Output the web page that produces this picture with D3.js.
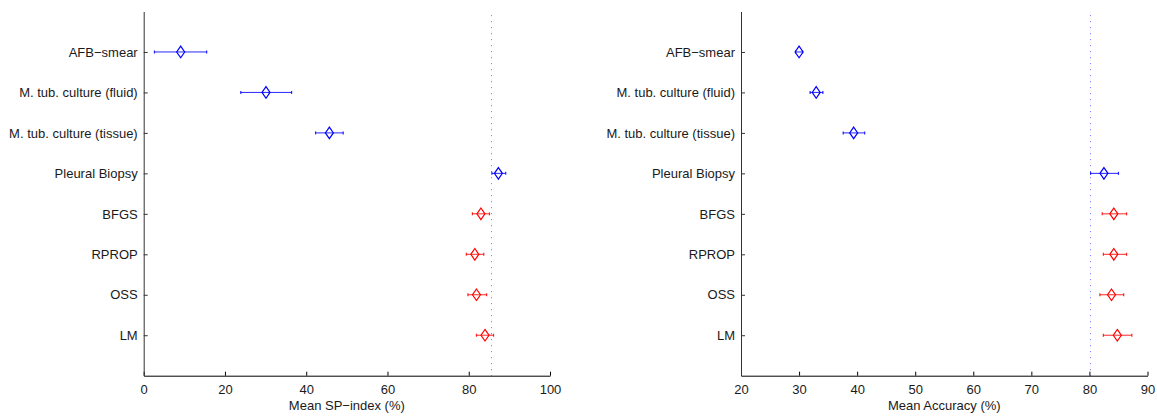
<!DOCTYPE html>
<html>
<head>
<meta charset="utf-8">
<script src="https://cdn.jsdelivr.net/npm/d3@7"></script>
<style>
  html, body { margin: 0; padding: 0; background: #fff; }
  svg { display: block; }
  text { font-family: "Liberation Sans", Arial, Helvetica, sans-serif; fill: #1a1a1a; }
</style>
</head>
<body>
<svg id="chart" width="1157" height="416"></svg>
<script>
// ---- data ----
const categories = ["AFB\u2212smear", "M. tub. culture (fluid)", "M. tub. culture (tissue)", "Pleural Biopsy", "BFGS", "RPROP", "OSS", "LM"];
const methodType = ["test", "test", "test", "test", "ann", "ann", "ann", "ann"];

const spMean = [9.1, 30.1, 45.7, 87.3, 83.0, 81.5, 81.9, 84.0];
const spLow  = [2.65, 23.9, 42.3, 85.7, 80.9, 79.4, 79.8, 81.9];
const spHigh = [15.5, 36.4, 49.1, 89.1, 85.1, 83.7, 84.4, 86.1];
const spRef = 85.7;
const spTicks = [0, 20, 40, 60, 80, 100];

const accMean = [30.0, 32.95, 39.4, 82.5, 84.2, 84.2, 83.8, 84.8];
const accLow  = [29.4, 31.9, 37.6, 80.2, 82.2, 82.4, 81.8, 82.4];
const accHigh = [30.6, 34.1, 41.3, 85.0, 86.4, 86.4, 85.9, 87.3];
const accRef = 80.2;
const accTicks = [20, 30, 40, 50, 60, 70, 80, 90];

// ---- drawing ----
const svg = d3.select("#chart");
const colorOf = { test: "#0000ff", ann: "#ff0000" };
const refColor = "#8585ff";
const plotTop = 11.5, plotBottom = 375.7;
const fs = 13;

function panel(opts) {
  const { x0, x1, domain, ticks, mean, low, high, ref, xlabel } = opts;
  const x = d3.scaleLinear().domain(domain).range([x0, x1]);
  const y = d3.scaleLinear().domain([0, categories.length + 1]).range([plotTop, plotBottom]);
  const g = svg.append("g");

  // reference dotted line
  const rx = Math.floor(x(ref)) + 0.5;
  g.append("line")
    .attr("x1", rx).attr("x2", rx)
    .attr("y1", plotTop + 3.5).attr("y2", plotBottom)
    .attr("stroke", refColor).attr("stroke-width", 1)
    .attr("stroke-dasharray", "1.2,4.8");

  // x axis
  const xAxis = d3.axisBottom(x).tickValues(ticks).tickSizeInner(-4).tickSizeOuter(0).tickPadding(9).tickFormat(d3.format("d"));
  const gx = g.append("g").attr("transform", `translate(0,${plotBottom})`).call(xAxis);
  gx.select(".domain").attr("stroke", "#000").attr("stroke-width", 1);
  gx.selectAll(".tick line").attr("stroke", "#000");
  gx.selectAll(".tick text").attr("font-size", fs).attr("fill", "#1a1a1a")
    .attr("font-family", "'Liberation Sans', Arial, sans-serif");

  // y axis
  const yAxis = d3.axisLeft(y).tickValues(d3.range(1, categories.length + 1))
    .tickFormat(i => categories[i - 1]).tickSizeInner(-4).tickSizeOuter(0).tickPadding(6);
  const gy = g.append("g").attr("transform", `translate(${x0},0)`).call(yAxis);
  gy.select(".domain").attr("stroke", "#333").attr("stroke-width", 1);
  gy.selectAll(".tick line").attr("stroke", "#333");
  gy.selectAll(".tick text").attr("font-size", fs).attr("fill", "#1a1a1a")
    .attr("font-family", "'Liberation Sans', Arial, sans-serif");

  // x label
  g.append("text")
    .attr("x", (x0 + x1) / 2).attr("y", 410)
    .attr("text-anchor", "middle").attr("font-size", fs)
    .text(xlabel);

  // error bars + markers
  const rows = categories.map((c, i) => ({ i, c, m: mean[i], lo: low[i], hi: high[i], t: methodType[i] }));
  const eb = g.selectAll("g.eb").data(rows).join("g").attr("class", "eb");
  eb.append("line")
    .attr("x1", d => x(d.lo)).attr("x2", d => x(d.hi))
    .attr("y1", d => y(d.i + 1)).attr("y2", d => y(d.i + 1))
    .attr("stroke", d => colorOf[d.t]).attr("stroke-width", 1).attr("opacity", 0.85);
  eb.append("line")
    .attr("x1", d => x(d.lo)).attr("x2", d => x(d.lo))
    .attr("y1", d => y(d.i + 1) - 1.5).attr("y2", d => y(d.i + 1) + 1.5)
    .attr("stroke", d => colorOf[d.t]).attr("stroke-width", 1.2).attr("opacity", 0.85);
  eb.append("line")
    .attr("x1", d => x(d.hi)).attr("x2", d => x(d.hi))
    .attr("y1", d => y(d.i + 1) - 1.5).attr("y2", d => y(d.i + 1) + 1.5)
    .attr("stroke", d => colorOf[d.t]).attr("stroke-width", 1.2).attr("opacity", 0.85);
  const hw = 4, hh = 5.8;
  eb.append("path")
    .attr("d", d => {
      const cx = x(d.m), cy = y(d.i + 1);
      return `M${cx},${cy - hh}L${cx + hw},${cy}L${cx},${cy + hh}L${cx - hw},${cy}Z`;
    })
    .attr("fill", "none").attr("stroke", d => colorOf[d.t]).attr("stroke-width", 1.2);
}

panel({ x0: 143.7, x1: 550, domain: [0, 100], ticks: spTicks, mean: spMean, low: spLow, high: spHigh, ref: spRef, xlabel: "Mean SP\u2212index (%)" });
panel({ x0: 741, x1: 1147.5, domain: [20, 90], ticks: accTicks, mean: accMean, low: accLow, high: accHigh, ref: accRef, xlabel: "Mean Accuracy (%)" });
</script>
</body>
</html>
